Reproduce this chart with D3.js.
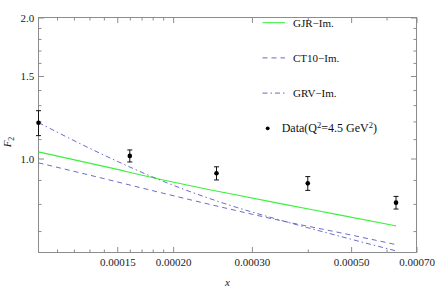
<!DOCTYPE html>
<html>
<head>
<meta charset="utf-8">
<script src="https://cdn.jsdelivr.net/npm/d3@7"></script>
<style>
  body { margin: 0; background: #fff; }
  svg { display: block; }
  text { font-family: "Liberation Serif", "DejaVu Serif", serif; }
</style>
</head>
<body>
<svg id="chart" width="436" height="289"></svg>
<script>
// x values of the curves (Bjorken x)
const curveX = [0.0001, 0.00014, 0.00019, 0.00026, 0.00035, 0.00047, 0.00063]
const gjr  = [1.033, 0.962, 0.900, 0.846, 0.800, 0.758, 0.718]
const ct10 = [0.979, 0.906, 0.843, 0.785, 0.736, 0.695, 0.655]
const grv  = [1.193, 1.017, 0.894, 0.802, 0.737, 0.683, 0.635]

// measured F2 with errors
const dataX   = [0.0001, 0.00016, 0.00025, 0.0004, 0.00063]
const dataF2  = [1.192, 1.013, 0.930, 0.885, 0.805]
const dataErr = [0.073, 0.030, 0.030, 0.030, 0.025]

const xMajor = [0.00015, 0.0002, 0.0003, 0.0005, 0.0007]
const xMinor = [0.00011, 0.00012, 0.00013, 0.00014, 0.00016, 0.00017, 0.00018, 0.00019, 0.0004, 0.0006]
const yMajor = [1.0, 1.5, 2.0]
const yMinor = [0.7, 0.8, 0.9, 1.1, 1.2, 1.3, 1.4, 1.6, 1.7, 1.8, 1.9]

const W = 436, H = 289
const margin = {top: 17.5, right: 19.5, bottom: 36.5, left: 38.5}
const serif = "'Liberation Serif', 'DejaVu Serif', serif"

const svg = d3.select("#chart")
const x = d3.scaleLog().domain([0.0001, 0.0007]).range([margin.left, W - margin.right])
const y = d3.scaleLog().domain([0.63, 2.0]).range([H - margin.bottom, margin.top])

const frameColor = "#8c8c8c"

// frame ticks, all pointing inward
function styleAxis(g) {
	g.attr("font-family", serif).attr("font-size", 11)
	g.select(".domain").remove()
	g.selectAll(".tick line").attr("stroke", frameColor)
	g.selectAll(".tick text").attr("fill", "#222")
}

svg.append("g").attr("transform", `translate(0,${y.range()[0]})`)
	.call(d3.axisBottom(x).tickValues(xMajor).tickSize(-5.5).tickPadding(5.5).tickFormat(d3.format(".5f")))
	.call(styleAxis)
svg.append("g").attr("transform", `translate(0,${y.range()[0]})`)
	.call(d3.axisBottom(x).tickValues(xMinor).tickSize(-3).tickFormat(""))
	.call(styleAxis)
svg.append("g").attr("transform", `translate(0,${y.range()[1]})`)
	.call(d3.axisTop(x).tickValues(xMajor).tickSize(-5.5).tickFormat(""))
	.call(styleAxis)
svg.append("g").attr("transform", `translate(0,${y.range()[1]})`)
	.call(d3.axisTop(x).tickValues(xMinor).tickSize(-3).tickFormat(""))
	.call(styleAxis)

svg.append("g").attr("transform", `translate(${x.range()[0]},0)`)
	.call(d3.axisLeft(y).tickValues(yMajor).tickSize(-5.5).tickPadding(4.2).tickFormat(d3.format(".1f")))
	.call(styleAxis)
svg.append("g").attr("transform", `translate(${x.range()[0]},0)`)
	.call(d3.axisLeft(y).tickValues(yMinor).tickSize(-3).tickFormat(""))
	.call(styleAxis)
svg.append("g").attr("transform", `translate(${x.range()[1]},0)`)
	.call(d3.axisRight(y).tickValues(yMajor).tickSize(-5.5).tickFormat(""))
	.call(styleAxis)
svg.append("g").attr("transform", `translate(${x.range()[1]},0)`)
	.call(d3.axisRight(y).tickValues(yMinor).tickSize(-3).tickFormat(""))
	.call(styleAxis)

svg.append("rect")
	.attr("x", x.range()[0]).attr("y", y.range()[1])
	.attr("width", x.range()[1] - x.range()[0]).attr("height", y.range()[0] - y.range()[1])
	.attr("fill", "none").attr("stroke", frameColor).attr("stroke-width", 1)

// curves
const series = [
	{name: "GJR\u2212Im.", values: gjr, color: "#3cf03c", dash: null, width: 1.1},
	{name: "CT10\u2212Im.", values: ct10, color: "#6c6cc8", dash: "5,4", width: 1},
	{name: "GRV\u2212Im.", values: grv, color: "#6c6cc8", dash: "5,3,1.5,3", width: 1}
]
const line = d3.line().x(d => x(d[0])).y(d => y(d[1])).curve(d3.curveMonotoneX)

svg.append("g").selectAll("path").data(series).enter().append("path")
	.attr("d", s => line(curveX.map((v, i) => [v, s.values[i]])))
	.attr("fill", "none")
	.attr("stroke", s => s.color)
	.attr("stroke-width", s => s.width)
	.attr("stroke-dasharray", s => s.dash)

// data points with error bars
const pts = svg.append("g").selectAll("g").data(dataX.map((v, i) => ({x: v, f: dataF2[i], e: dataErr[i]})))
	.enter().append("g")
pts.append("line")
	.attr("x1", d => x(d.x)).attr("x2", d => x(d.x))
	.attr("y1", d => y(d.f - d.e)).attr("y2", d => y(d.f + d.e))
	.attr("stroke", "#111").attr("stroke-width", 1)
pts.selectAll(".cap").data(d => [[d.x, d.f - d.e], [d.x, d.f + d.e]]).enter().append("line")
	.attr("x1", d => x(d[0]) - 2.5).attr("x2", d => x(d[0]) + 2.5)
	.attr("y1", d => y(d[1])).attr("y2", d => y(d[1]))
	.attr("stroke", "#111").attr("stroke-width", 1)
pts.append("circle")
	.attr("cx", d => x(d.x)).attr("cy", d => y(d.f)).attr("r", 2.3)
	.attr("fill", "#000")

// legend
const legend = svg.append("g").attr("font-family", serif)
series.forEach((s, i) => {
	const ly = 22.7 + i * 35.2
	legend.append("line")
		.attr("x1", 262.5).attr("x2", 285).attr("y1", ly).attr("y2", ly)
		.attr("stroke", s.color).attr("stroke-width", s.width).attr("stroke-dasharray", s.dash)
	legend.append("text").attr("x", 293).attr("y", ly + 3.8)
		.attr("font-size", 11).attr("fill", "#111").text(s.name)
})
legend.append("circle").attr("cx", 267.7).attr("cy", 128.3).attr("r", 1.9).attr("fill", "#000")
const dt = legend.append("text").attr("x", 281.7).attr("y", 132.3).attr("font-size", 12).attr("fill", "#111")
dt.append("tspan").text("Data(Q")
dt.append("tspan").attr("dy", -4.5).attr("font-size", 8.5).text("2")
dt.append("tspan").attr("dy", 4.5).text("=4.5 GeV")
dt.append("tspan").attr("dy", -4.5).attr("font-size", 8.5).text("2")
dt.append("tspan").attr("dy", 4.5).text(")")

// axis labels
svg.append("text").attr("x", 227.5).attr("y", 286).attr("text-anchor", "middle")
	.attr("font-family", serif).attr("font-size", 11).attr("font-style", "italic").attr("fill", "#222").text("x")
const fl = svg.append("text").attr("transform", "translate(11,142) rotate(-90)").attr("text-anchor", "middle")
	.attr("font-family", serif).attr("font-size", 11).attr("fill", "#222")
fl.append("tspan").attr("font-style", "italic").text("F")
fl.append("tspan").attr("dy", 3).attr("font-size", 8).text("2")
</script>
</body>
</html>
